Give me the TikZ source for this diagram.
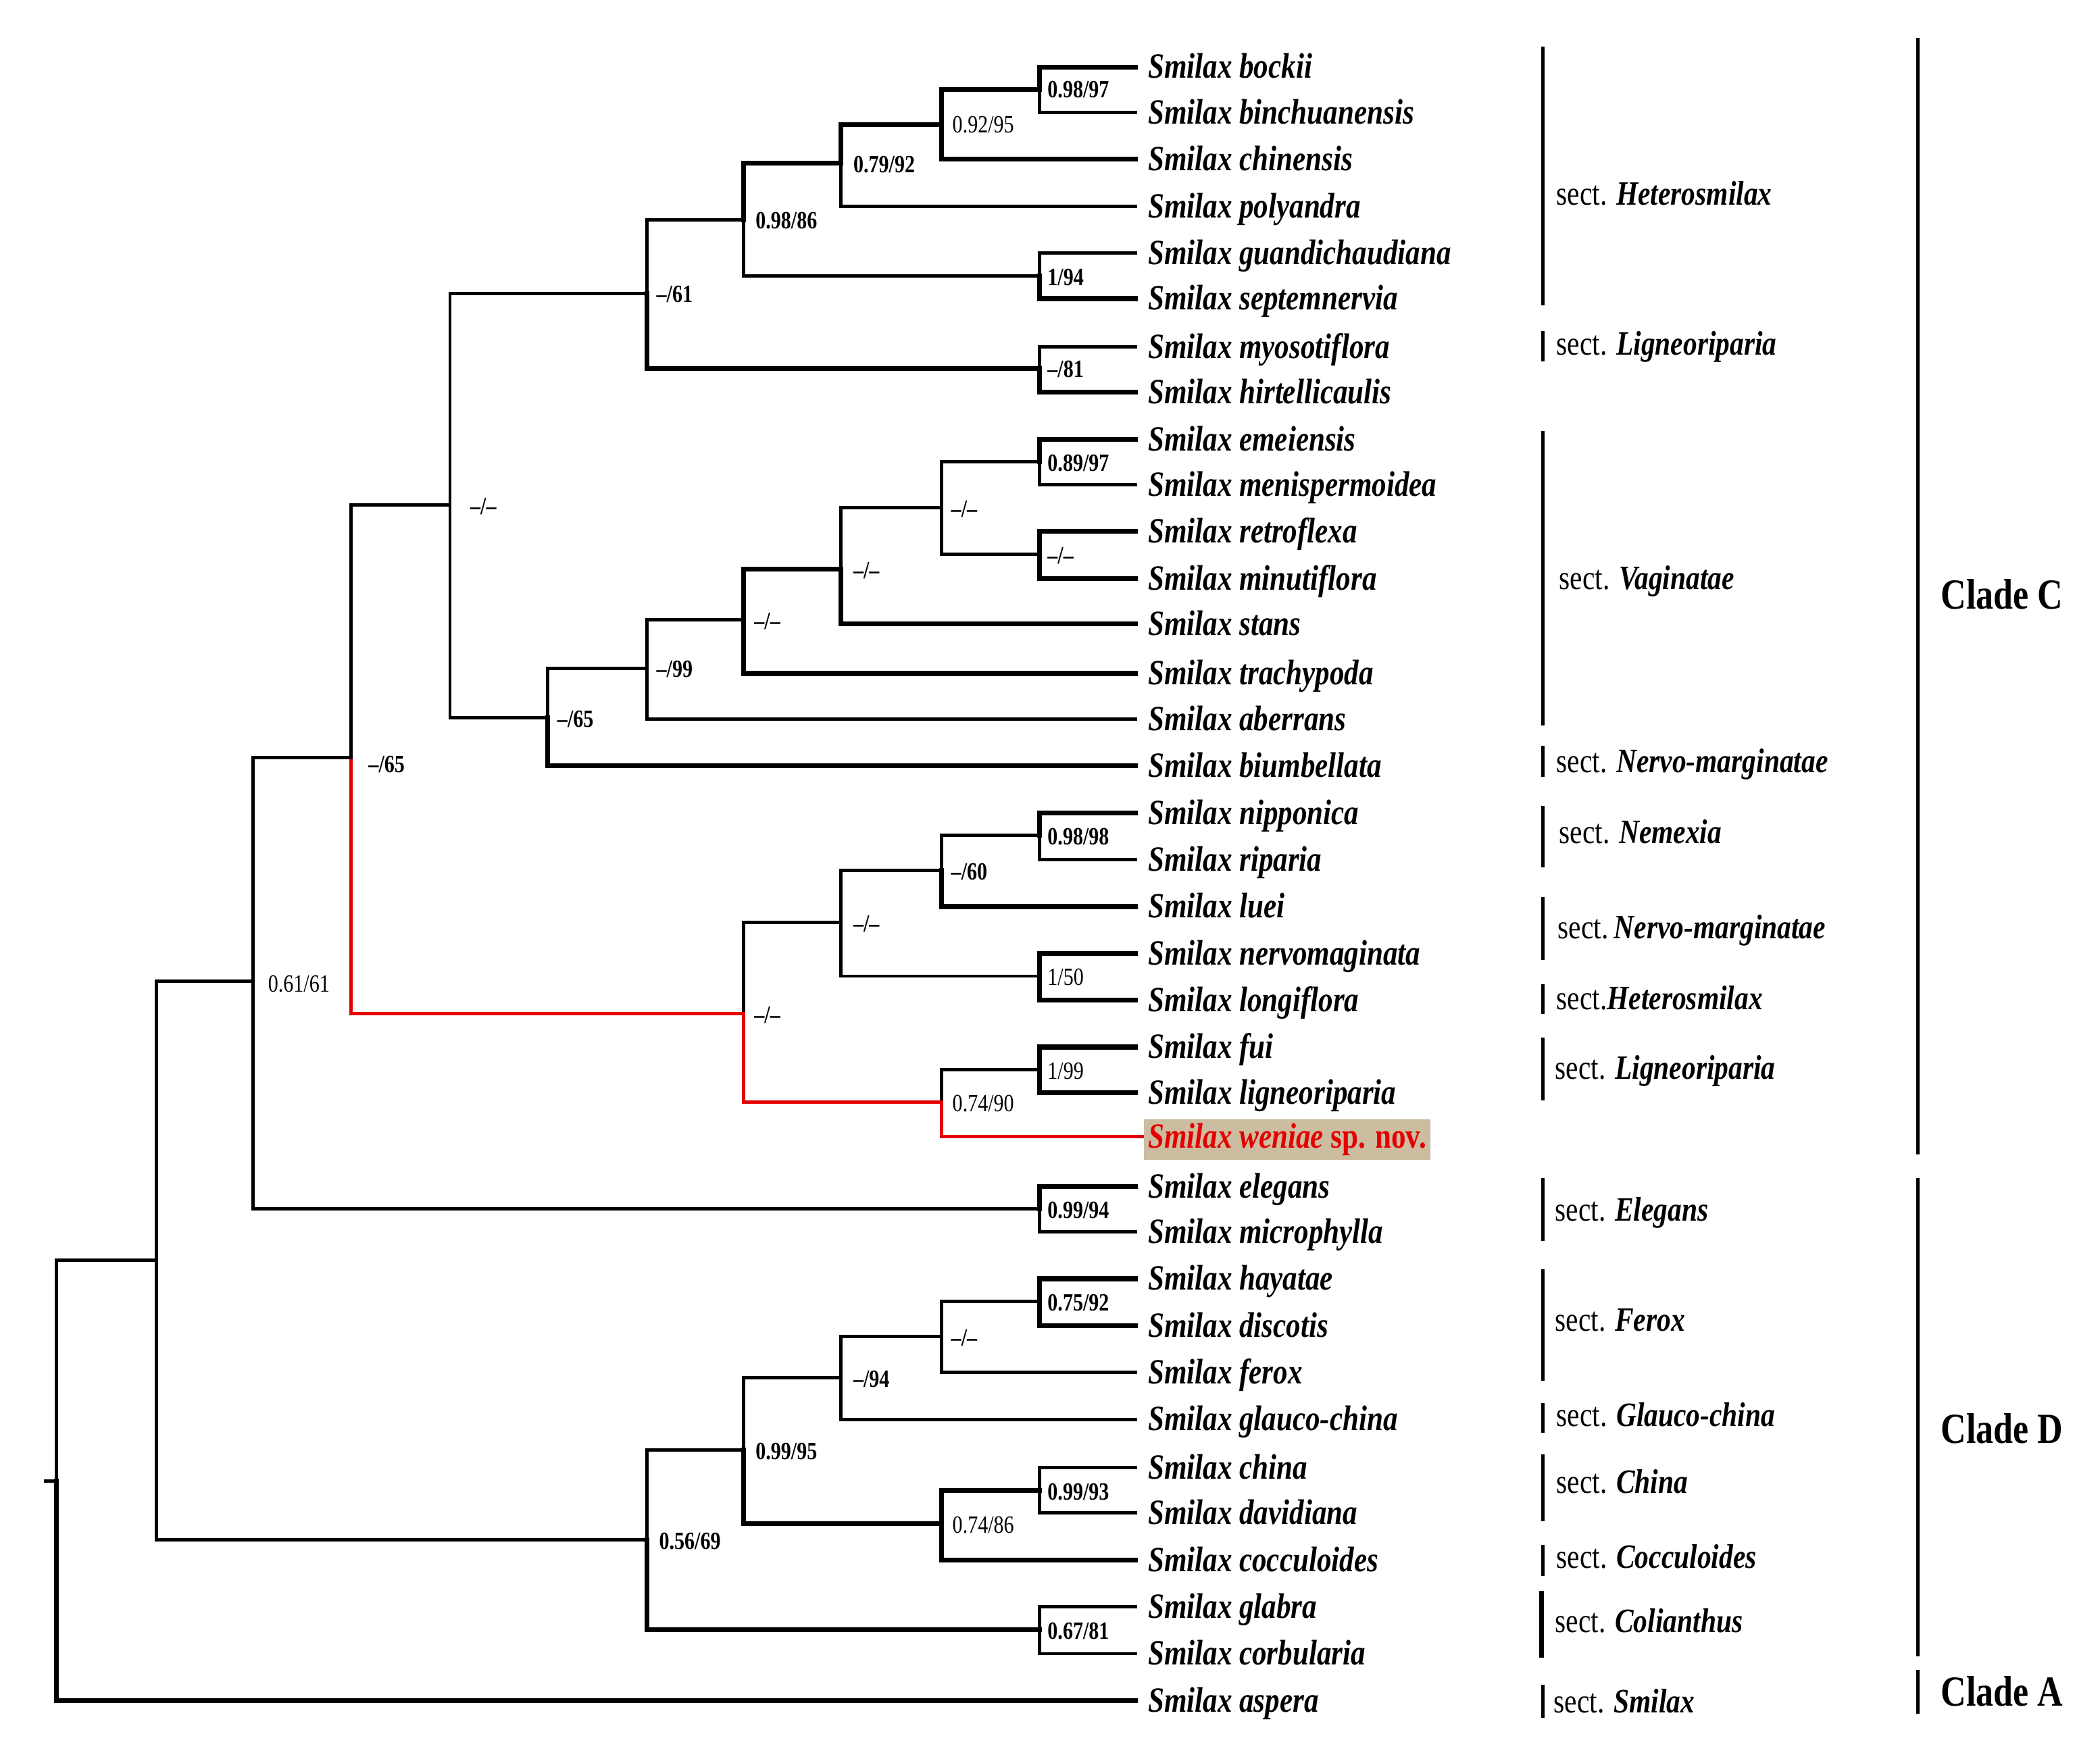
\documentclass[tikz,border=0pt]{standalone}
\usepackage{fontspec}
\setmainfont{Liberation Serif}
\newfontfamily\treefont[FakeStretch=0.82]{Liberation Serif}
\newcommand\spfont{\treefont\fontsize{26.5}{28}\selectfont\bfseries\itshape}
\newcommand\supfont{\treefont\fontsize{18.5}{20}\selectfont\bfseries}
\newcommand\secfont{\treefont\fontsize{25.5}{27}\selectfont}
\newcommand\cladefont{\treefont\fontsize{32}{34}\selectfont\bfseries}
\definecolor{hl}{RGB}{228,0,0}
\definecolor{tan}{RGB}{204,189,160}
\begin{document}
\begin{tikzpicture}[x=1pt,y=-1pt,
 br/.style={line width=2.5pt,line cap=rect},
 bt/.style={line width=3.6pt,line cap=rect},
 rd/.style={line width=2.5pt,line cap=rect,draw=hl},
 tip/.style={anchor=base west,inner sep=0pt,font=\spfont},
 sup/.style={anchor=base west,inner sep=0pt,font=\supfont},
 supr/.style={anchor=base west,inner sep=0pt,font=\supfont\mdseries},
 sec/.style={anchor=base west,inner sep=0pt,font=\secfont},
 clade/.style={anchor=base west,inner sep=0pt,font=\cladefont},
 bar/.style={line width=2.4pt},
 cbar/.style={line width=2.6pt}]
\useasboundingbox (0,0) rectangle (1568,1312);
% ---------- internal nodes
\coordinate (stub) at (34,1106);
\coordinate (root) at (42,1106);
\coordinate (nA) at (117,941);
\coordinate (nB) at (189,733);
\coordinate (nC) at (262,566);
\coordinate (nD) at (336,377);
\coordinate (nE) at (483,219);
\coordinate (nF) at (555,164);
\coordinate (nG) at (628,122);
\coordinate (nH) at (703,93);
\coordinate (nI) at (776,67);
\coordinate (nJ) at (776,206);
\coordinate (nK) at (776,275);
\coordinate (nL) at (409,536);
\coordinate (nM) at (483,499);
\coordinate (nN) at (555,463);
\coordinate (nO) at (628,425);
\coordinate (nP) at (703,379);
\coordinate (nQ) at (776,345);
\coordinate (nR) at (776,414);
\coordinate (nS) at (555,757);
\coordinate (nT) at (628,689);
\coordinate (nU) at (703,650);
\coordinate (nV) at (776,624);
\coordinate (nW) at (776,729);
\coordinate (nX) at (703,823);
\coordinate (nY) at (776,799);
\coordinate (nZ) at (776,903);
\coordinate (nAA) at (483,1150);
\coordinate (nAB) at (555,1083);
\coordinate (nAC) at (628,1029);
\coordinate (nAD) at (703,998);
\coordinate (nAE) at (776,972);
\coordinate (nAF) at (703,1138);
\coordinate (nAG) at (776,1113);
\coordinate (nAH) at (776,1217);
% ---------- tips
\coordinate (e1) at (848,50);   \node[tip] (t1) at (857,58.5) {Smilax bockii};
\coordinate (e2) at (848,84);   \node[tip] (t2) at (857,92.5) {Smilax binchuanensis};
\coordinate (e3) at (848,119);  \node[tip] (t3) at (857,127.5) {Smilax chinensis};
\coordinate (e4) at (848,154);  \node[tip] (t4) at (857,162.5) {Smilax polyandra};
\coordinate (e5) at (848,189);  \node[tip] (t5) at (857,197.5) {Smilax guandichaudiana};
\coordinate (e6) at (848,223);  \node[tip] (t6) at (857,231.5) {Smilax septemnervia};
\coordinate (e7) at (848,259);  \node[tip] (t7) at (857,267.5) {Smilax myosotiflora};
\coordinate (e8) at (848,293);  \node[tip] (t8) at (857,301.5) {Smilax hirtellicaulis};
\coordinate (e9) at (848,328);  \node[tip] (t9) at (857,336.5) {Smilax emeiensis};
\coordinate (e10) at (848,362); \node[tip] (t10) at (857,370.5) {Smilax menispermoidea};
\coordinate (e11) at (848,397); \node[tip] (t11) at (857,405.5) {Smilax retroflexa};
\coordinate (e12) at (848,432); \node[tip] (t12) at (857,440.5) {Smilax minutiflora};
\coordinate (e13) at (848,466); \node[tip] (t13) at (857,474.5) {Smilax stans};
\coordinate (e14) at (848,503); \node[tip] (t14) at (857,511.5) {Smilax trachypoda};
\coordinate (e15) at (848,537); \node[tip] (t15) at (857,545.5) {Smilax aberrans};
\coordinate (e16) at (848,572); \node[tip] (t16) at (857,580.5) {Smilax biumbellata};
\coordinate (e17) at (848,607); \node[tip] (t17) at (857,615.5) {Smilax nipponica};
\coordinate (e18) at (848,642); \node[tip] (t18) at (857,650.5) {Smilax riparia};
\coordinate (e19) at (848,677); \node[tip] (t19) at (857,685.5) {Smilax luei};
\coordinate (e20) at (848,712); \node[tip] (t20) at (857,720.5) {Smilax nervomaginata};
\coordinate (e21) at (848,747); \node[tip] (t21) at (857,755.5) {Smilax longiflora};
\coordinate (e22) at (848,782); \node[tip] (t22) at (857,790.5) {Smilax fui};
\coordinate (e23) at (848,816); \node[tip] (t23) at (857,824.5) {Smilax ligneoriparia};
\coordinate (e24) at (853,849); \node[tip,fill=tan,inner xsep=3pt,inner ysep=3pt,text=hl] (t24) at (854,857.5) {Smilax weniae \upshape sp. nov.};
\coordinate (e25) at (848,886); \node[tip] (t25) at (857,894.5) {Smilax elegans};
\coordinate (e26) at (848,920); \node[tip] (t26) at (857,928.5) {Smilax microphylla};
\coordinate (e27) at (848,955); \node[tip] (t27) at (857,963.5) {Smilax hayatae};
\coordinate (e28) at (848,990); \node[tip] (t28) at (857,998.5) {Smilax discotis};
\coordinate (e29) at (848,1025); \node[tip] (t29) at (857,1033.5) {Smilax ferox};
\coordinate (e30) at (848,1060); \node[tip] (t30) at (857,1068.5) {Smilax glauco-china};
\coordinate (e31) at (848,1096); \node[tip] (t31) at (857,1104.5) {Smilax china};
\coordinate (e32) at (848,1130); \node[tip] (t32) at (857,1138.5) {Smilax davidiana};
\coordinate (e33) at (848,1165); \node[tip] (t33) at (857,1173.5) {Smilax cocculoides};
\coordinate (e34) at (848,1200); \node[tip] (t34) at (857,1208.5) {Smilax glabra};
\coordinate (e35) at (848,1235); \node[tip] (t35) at (857,1243.5) {Smilax corbularia};
\coordinate (e36) at (848,1270); \node[tip] (t36) at (857,1278.5) {Smilax aspera};
% ---------- branches
\draw[bt] (nI) |- (e1); \draw[br] (nI) |- (e2);
\draw[bt] (nH) |- (nI); \draw[bt] (nH) |- (e3);
\draw[bt] (nG) |- (nH); \draw[br] (nG) |- (e4);
\draw[bt] (nF) |- (nG); \draw[br] (nF) |- (nJ);
\draw[br] (nJ) |- (e5); \draw[bt] (nJ) |- (e6);
\draw[br] (nE) |- (nF); \draw[bt] (nE) |- (nK);
\draw[br] (nK) |- (e7); \draw[bt] (nK) |- (e8);
\draw[br] (nD) |- (nE); \draw[br] (nD) |- (nL);
\draw[br] (nL) |- (nM); \draw[bt] (nL) |- (e16);
\draw[br] (nM) |- (nN); \draw[br] (nM) |- (e15);
\draw[bt] (nN) |- (nO); \draw[bt] (nN) |- (e14);
\draw[br] (nO) |- (nP); \draw[bt] (nO) |- (e13);
\draw[br] (nP) |- (nQ); \draw[br] (nP) |- (nR);
\draw[bt] (nQ) |- (e9); \draw[br] (nQ) |- (e10);
\draw[bt] (nR) |- (e11); \draw[bt] (nR) |- (e12);
\draw[br] (nC) |- (nD); \draw[rd] (nC) |- (nS);
\draw[br] (nS) |- (nT); \draw[rd] (nS) |- (nX);
\draw[br] (nT) |- (nU); \draw[br] (nT) |- (nW);
\draw[br] (nU) |- (nV); \draw[bt] (nU) |- (e19);
\draw[bt] (nV) |- (e17); \draw[br] (nV) |- (e18);
\draw[bt] (nW) |- (e20); \draw[bt] (nW) |- (e21);
\draw[br] (nX) |- (nY); \draw[rd] (nX) |- (e24);
\draw[bt] (nY) |- (e22); \draw[bt] (nY) |- (e23);
\draw[br] (nB) |- (nC); \draw[br] (nB) |- (nZ);
\draw[bt] (nZ) |- (e25); \draw[br] (nZ) |- (e26);
\draw[br] (nA) |- (nB); \draw[br] (nA) |- (nAA);
\draw[br] (nAA) |- (nAB); \draw[bt] (nAA) |- (nAH);
\draw[br] (nAB) |- (nAC); \draw[bt] (nAB) |- (nAF);
\draw[br] (nAC) |- (nAD); \draw[br] (nAC) |- (e30);
\draw[br] (nAD) |- (nAE); \draw[br] (nAD) |- (e29);
\draw[bt] (nAE) |- (e27); \draw[bt] (nAE) |- (e28);
\draw[bt] (nAF) |- (nAG); \draw[bt] (nAF) |- (e33);
\draw[br] (nAG) |- (e31); \draw[br] (nAG) |- (e32);
\draw[br] (nAH) |- (e34); \draw[br] (nAH) |- (e35);
\draw[br] (root) |- (nA); \draw[bt] (root) |- (e36);
\draw[br] (stub) -- (root);
% ---------- support values
\node[sup] (lI) at (782,73) {0.98/97};
\node[supr] (lH) at (711,99) {0.92/95};
\node[sup] (lG) at (637,129) {0.79/92};
\node[sup] (lF) at (564,171) {0.98/86};
\node[sup] (lJ) at (782,213) {1/94};
\node[sup] (lE) at (490,226) {\textendash/61};
\node[sup] (lK) at (782,282) {\textendash/81};
\node[sup] (lD) at (351,384) {\textendash/\textendash};
\node[sup] (lL) at (416,543) {\textendash/65};
\node[sup] (lM) at (490,506) {\textendash/99};
\node[sup] (lN) at (563,470) {\textendash/\textendash};
\node[sup] (lO) at (637,432) {\textendash/\textendash};
\node[sup] (lP) at (710,386) {\textendash/\textendash};
\node[sup] (lQ) at (782,352) {0.89/97};
\node[sup] (lR) at (782,421) {\textendash/\textendash};
\node[sup] (lC) at (275,577) {\textendash/65};
\node[supr] (lB) at (200,741) {0.61/61};
\node[sup] (lS) at (563,764) {\textendash/\textendash};
\node[sup] (lT) at (637,696) {\textendash/\textendash};
\node[sup] (lU) at (710,657) {\textendash/60};
\node[sup] (lV) at (782,631) {0.98/98};
\node[supr] (lW) at (782,736) {1/50};
\node[supr] (lX) at (711,830) {0.74/90};
\node[supr] (lY) at (782,806) {1/99};
\node[sup] (lZ) at (782,910) {0.99/94};
\node[sup] (lAA) at (492,1157) {0.56/69};
\node[sup] (lAB) at (564,1090) {0.99/95};
\node[sup] (lAC) at (637,1036) {\textendash/94};
\node[sup] (lAD) at (710,1005) {\textendash/\textendash};
\node[sup] (lAE) at (782,979) {0.75/92};
\node[supr] (lAF) at (711,1145) {0.74/86};
\node[sup] (lAG) at (782,1120) {0.99/93};
\node[sup] (lAH) at (782,1224) {0.67/81};
% ---------- sections
\draw[bar] (1152,35) -- (1152,228);   \node[sec] (s1) at (1162,153) {sect. \textbf{\textit{Heterosmilax}}};
\draw[bar] (1152,247) -- (1152,270);  \node[sec] (s2) at (1162,265) {sect. \textbf{\textit{Ligneoriparia}}};
\draw[bar] (1152,322) -- (1152,542);  \node[sec] (s3) at (1164,440) {sect. \textbf{\textit{Vaginatae}}};
\draw[bar] (1152,557) -- (1152,580);  \node[sec] (s4) at (1162,577) {sect. \textbf{\textit{Nervo-marginatae}}};
\draw[bar] (1152,602) -- (1152,648);  \node[sec] (s5) at (1164,630) {sect. \textbf{\textit{Nemexia}}};
\draw[bar] (1152,670) -- (1152,717);  \node[sec] (s6) at (1163,701) {sect.\,\textbf{\textit{Nervo-marginatae}}};
\draw[bar] (1152,735) -- (1152,757);  \node[sec] (s7) at (1162,754) {sect.\textbf{\textit{Heterosmilax}}};
\draw[bar] (1152,775) -- (1152,822);  \node[sec] (s8) at (1161,806) {sect. \textbf{\textit{Ligneoriparia}}};
\draw[bar] (1152,880) -- (1152,927);  \node[sec] (s9) at (1161,912) {sect. \textbf{\textit{Elegans}}};
\draw[bar] (1152,948) -- (1152,1031); \node[sec] (s10) at (1161,994) {sect. \textbf{\textit{Ferox}}};
\draw[bar] (1152,1048) -- (1152,1070); \node[sec] (s11) at (1162,1065) {sect. \textbf{\textit{Glauco-china}}};
\draw[bar] (1152,1086) -- (1152,1136); \node[sec] (s12) at (1162,1115) {sect. \textbf{\textit{China}}};
\draw[bar] (1152,1154) -- (1152,1177); \node[sec] (s13) at (1162,1171) {sect. \textbf{\textit{Cocculoides}}};
\draw[line width=3.4pt] (1151,1188) -- (1151,1238); \node[sec] (s14) at (1161,1219) {sect. \textbf{\textit{Colianthus}}};
\draw[bar] (1152,1258) -- (1152,1283); \node[sec] (s15) at (1160,1279) {sect. \textbf{\textit{Smilax}}};
% ---------- clades
\draw[cbar] (1432,28) -- (1432,862);   \node[clade] (cC) at (1449,455) {Clade C};
\draw[cbar] (1432,880) -- (1432,1237); \node[clade] (cD) at (1449,1078) {Clade D};
\draw[cbar] (1432,1247) -- (1432,1280); \node[clade] (cA) at (1449,1274) {Clade A};
\end{tikzpicture}
\end{document}
